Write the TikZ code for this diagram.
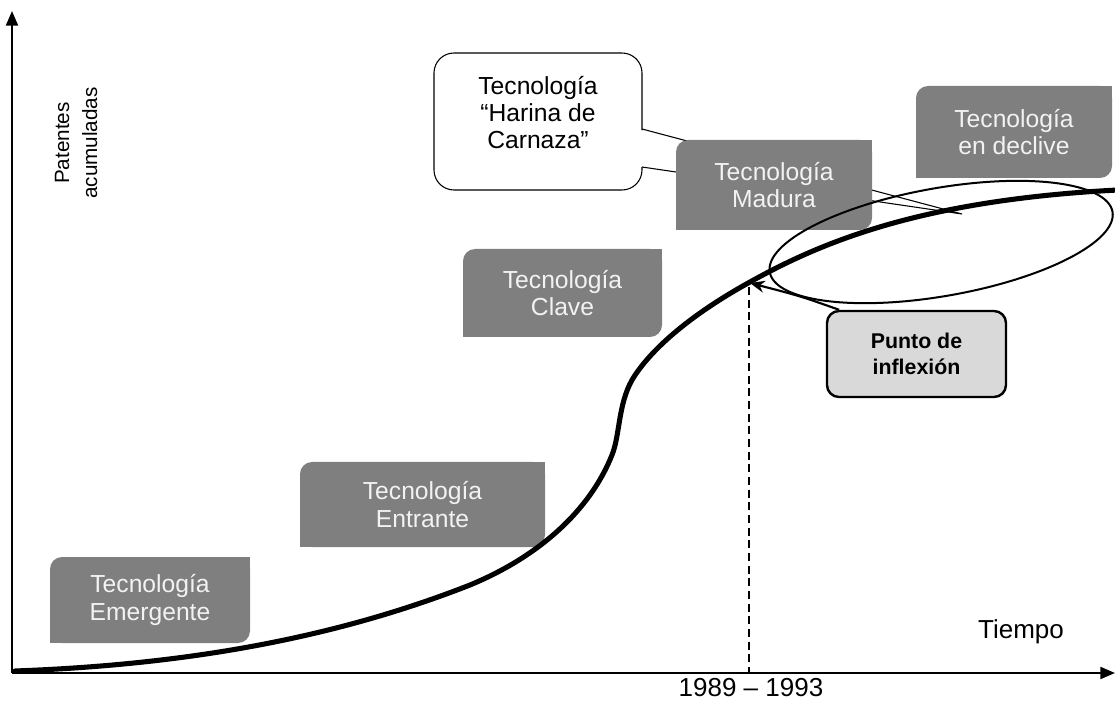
\documentclass[tikz,border=0pt]{standalone}
\usepackage{fontspec}
\setmainfont{Liberation Sans}
\usetikzlibrary{arrows.meta}

\definecolor{boxgray}{HTML}{7F7F7F}
\definecolor{boxtext}{HTML}{F2F2F2}
\definecolor{notefill}{HTML}{D9D9D9}

\tikzset{
  stage/.style={fill=boxgray, text=boxtext, rounded corners=9pt, outer sep=0pt,
    inner sep=2pt, align=center, font=\fontsize{18.5}{20.5}\selectfont},
  bubble/.style={draw=black, line width=0.8pt, fill=white, rounded corners=15pt,
    outer sep=0pt, minimum width=156pt, minimum height=102.75pt},
  bubbletext/.style={align=center, font=\fontsize{18.5}{20.5}\selectfont},
  notebox/.style={draw=black, line width=1.8pt, fill=notefill, rounded corners=9pt,
    align=center, minimum width=134.25pt, minimum height=64.5pt,
    font=\bfseries\fontsize{16}{19.5}\selectfont},
  axis/.style={line width=1.6pt, -{Triangle[length=11pt,width=9pt]}},
  scurve/.style={line width=3.8pt, line cap=round},
  ring/.style={line width=1.5pt},
  guide/.style={line width=1.1pt, dash pattern=on 6pt off 3.5pt},
  pointer/.style={line width=1.6pt, -{Stealth[length=11pt,width=9pt]}},
  label/.style={font=\fontsize{19.5}{22}\selectfont},
}

% stage boxes: only the top-left and bottom-right corners are rounded
\newcommand\squarecorners[1]{%
  \fill[boxgray] (#1.north east) rectangle ++(-12,12);
  \fill[boxgray] (#1.south west) rectangle ++(12,-12);}

\begin{document}
\begin{tikzpicture}[x=0.75pt, y=-0.75pt]
\useasboundingbox (0,0) rectangle (1115,702);

% speech bubble with its pointer
\node[bubble] (bubble) at (538,121.5) {};
\coordinate (pa) at (642,129);
\coordinate (pb) at (642,167);
\coordinate (ptip) at (962,214);
\fill[white] (639,129.5) -- (ptip) -- (639,166.5) -- cycle;
\draw[line width=0.8pt] (pa) -- (ptip) -- (pb);
\node[bubbletext] (bubbletxt) at ([yshift=6.75pt]bubble.center)
  {Tecnología\\“Harina de\\Carnaza”};

% stage boxes
\node[stage, minimum width=150pt, minimum height=64.5pt] (emerg) at (150,600)
  {Tecnología\\Emergente};
\node[stage, minimum width=183.75pt, minimum height=63.75pt] (entr) at (422.5,504.5)
  {Tecnología\\Entrante};
\node[stage, minimum width=149.25pt, minimum height=66pt] (clave) at (562.5,293)
  {Tecnología\\Clave};
\node[stage, minimum width=147pt, minimum height=67.5pt] (madura) at (774,185)
  {Tecnología\\Madura};
\node[stage, minimum width=147pt, minimum height=69pt] (declive) at (1014,132)
  {Tecnología\\en declive};
\squarecorners{emerg}
\squarecorners{entr}
\squarecorners{clave}
\squarecorners{madura}
\squarecorners{declive}

% axes
\coordinate (origin) at (12,673);
\coordinate (ytop) at (12,11);
\coordinate (xend) at (1115,673);
\draw[axis] (origin) -- (ytop);
\draw[axis] (origin) -- (xend);

% cumulative patents S-curve
\draw[scurve] (15,671)
  .. controls (180,665) and (330,640) .. (470,585)
  .. controls (540,556) and (590,510) .. (612,455)
  .. controls (620,435) and (618,405) .. (632,380)
  .. controls (650,350) and (690,315) .. (750,282)
  .. controls (820,243) and (920,200) .. (1118,190);

% maturity region
\coordinate (ringc) at (941,242);
\draw[ring, rotate around={10:(ringc)}] (ringc) ellipse [x radius=130.5pt, y radius=40.5pt];

% inflection point and its date
\coordinate (infl) at (750,283);
\draw[guide] (749,287) -- (749,672);
\node[label] (years) at (751,688) {1989 – 1993};

\node[notebox] (punto) at (916.5,354) {Punto de\\inflexión};
\draw[pointer] ([xshift=10pt]punto.north west) .. controls (800,296) .. (infl);

% axis titles
\node[label] (tiempo) at (1021,632) {Tiempo};
\node[rotate=90, align=center, font=\fontsize{15.5}{21}\selectfont] (patentes)
  at (76,143) {Patentes\\acumuladas};
\end{tikzpicture}
\end{document}
